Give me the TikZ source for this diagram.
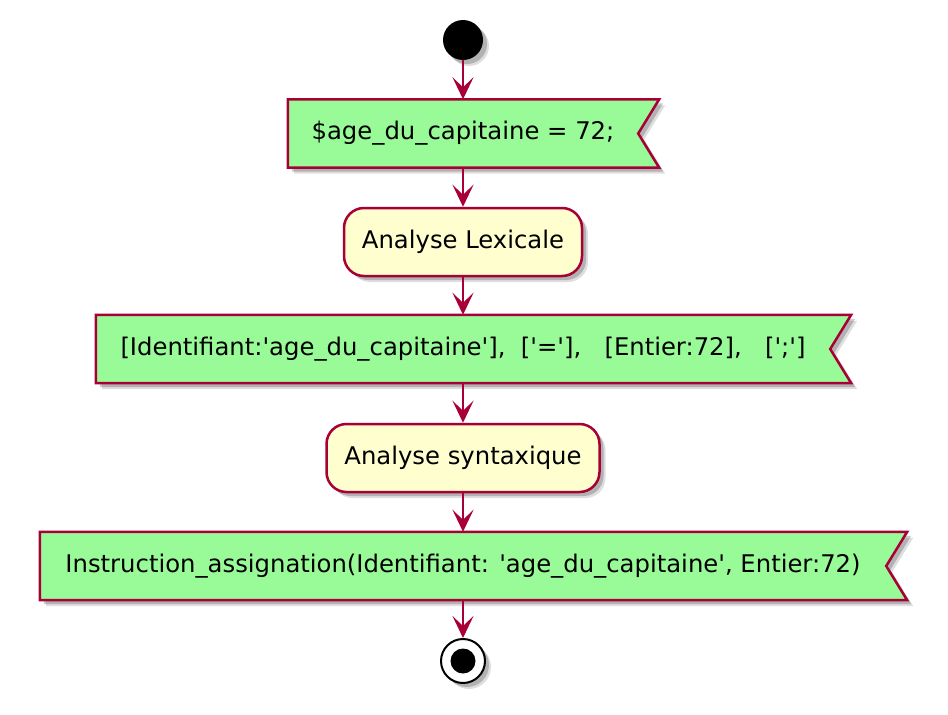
\documentclass[tikz,border=0pt]{standalone}
\usepackage{fontspec}
\setmainfont{DejaVu Sans}
\usetikzlibrary{arrows.meta,backgrounds}
\definecolor{pred}{HTML}{A80036}
\definecolor{pgreen}{HTML}{98FB98}
\definecolor{pyell}{HTML}{FEFECE}
\newcommand\sq{\textquotesingle}
\begin{document}
\begin{tikzpicture}[x=1pt,y=-1pt,
  txt/.style={font=\fontsize{24.3}{29}\selectfont},
  shadowed/.style={
    preaction={fill=black,opacity=.13,transform canvas={shift={(6pt,-6pt)}}},
    preaction={fill=black,opacity=.2,transform canvas={shift={(4pt,-4pt)}}}},
  flagbox/.style={txt, rectangle, inner sep=0pt, minimum height=68pt},
  actbox/.style={txt, rectangle, rounded corners=20pt, draw=pred, line width=2.5pt,
    fill=pyell, inner sep=0pt, minimum height=68pt, shadowed},
  flagline/.style={draw=pred, line width=2.5pt, fill=pgreen, line join=miter, shadowed},
  conn/.style={draw=pred, line width=2.7pt, -{Stealth[length=22pt,width=21pt,inset=10pt]}},
]
\useasboundingbox (0,0) rectangle (948,715);

\node[circle, fill=black, minimum size=40pt, inner sep=0pt, shadowed] (start) at (463,40) {};
\node[flagbox, minimum width=350pt] (b1) at (463,133.5) {\$age\_du\_capitaine = 72;};
\node[actbox, minimum width=238pt] (lex) at (463,242) {Analyse Lexicale};
\node[flagbox, minimum width=734pt] (b2) at (463,349) {[Identifiant:\sq age\_du\_capitaine\sq],\ \ [\sq=\sq],\ \ \ [Entier:72],\ \ \ [\sq;\sq]};
\node[actbox, minimum width=273pt] (syn) at (463,458) {Analyse syntaxique};
\node[flagbox, minimum width=846pt] (b3) at (463,566) {Instruction\_assignation(Identifiant: \sq age\_du\_capitaine\sq, Entier:72)};
\node[circle, draw=black, line width=2pt, fill=white, minimum size=44pt, inner sep=0pt, shadowed] (end) at (463,661) {};
\fill[black] (end.center) circle (12.5pt);

\begin{scope}[on background layer]
  \foreach \n in {b1,b2,b3}{
    \path[flagline] (\n.north west) -- ([xshift=21pt]\n.north east) -- (\n.east)
      -- ([xshift=21pt]\n.south east) -- (\n.south west) -- cycle;
  }
\end{scope}

\draw[conn] (start) -- (b1.north);
\draw[conn] (b1.south) -- (lex);
\draw[conn] (lex) -- (b2.north);
\draw[conn] (b2.south) -- (syn);
\draw[conn] (syn) -- (b3.north);
\draw[conn] (b3.south) -- (end);
\end{tikzpicture}
\end{document}
